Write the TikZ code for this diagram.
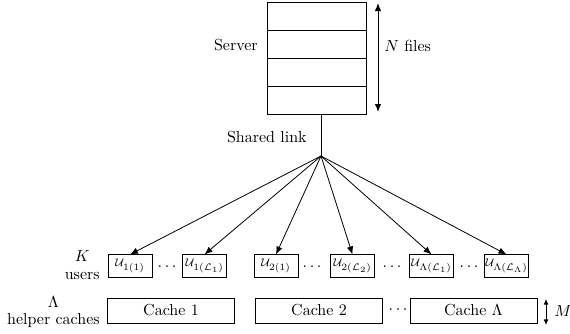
\documentclass[tikz,border=0pt]{standalone}
\usetikzlibrary{arrows.meta}
\newcommand{\usubx}[1]{$\mathcal{U}_{\mbox{\fontsize{5.8}{6}\selectfont$#1$}}$}
\begin{document}
\begin{tikzpicture}[x=0.625pt,y=-0.625pt,
  filerow/.style={draw,line width=0.6pt,minimum width=61.9pt,minimum height=17.5pt,inner sep=0pt},
  userbox/.style={draw,line width=0.6pt,minimum width=27.5pt,minimum height=13.8pt,inner sep=0pt,font=\fontsize{7.5}{9}\selectfont},
  cachebox/.style={draw,line width=0.6pt,minimum width=79.4pt,minimum height=15.6pt,inner sep=0pt},
  link/.style={line width=0.5pt,-{Latex[length=5pt,width=4pt]}},
  lbl/.style={inner sep=0pt,align=center}]
\useasboundingbox (0,0) rectangle (570,333);
% server
\node[filerow] (f1) at (316.5,16) {};
\node[filerow] (f2) at (316.5,44) {};
\node[filerow] (f3) at (316.5,72) {};
\node[filerow] (f4) at (316.5,100) {};
\node[lbl,anchor=east] (srv) at (258,45) {Server};
\coordinate (ntop) at (378,3);
\coordinate (nbot) at (378,112);
\draw[line width=0.6pt,{Latex[length=5pt,width=4pt]}-{Latex[length=5pt,width=4pt]}] (ntop) -- (nbot);
\node[lbl,anchor=west] (nf) at (384,46) {$N$ files};
% shared link
\coordinate (hub) at (321,156);
\draw[line width=0.5pt] (hub |- f4.south) -- (hub);
\node[lbl,anchor=east] (sl) at (307,137) {Shared link};
% users
\node[userbox] (u1) at (130,266) {\usubx{1(1)}};
\node[userbox] (u2) at (204.5,266) {\usubx{1(\mathcal{L}_1)}};
\node[userbox] (u3) at (276,266) {\usubx{2(1)}};
\node[userbox] (u4) at (352.5,266) {\usubx{2(\mathcal{L}_2)}};
\node[userbox] (u5) at (431.5,266) {\usubx{\Lambda(\mathcal{L}_1)}};
\node[userbox] (u6) at (506.5,266) {\usubx{\Lambda(\mathcal{L}_\Lambda)}};
\node[lbl] (d1) at (167,267) {$\dots$};
\node[lbl] (d2) at (312,267) {$\dots$};
\node[lbl] (d3) at (392,267) {$\dots$};
\node[lbl] (d4) at (469,267) {$\dots$};
\foreach \u in {u1,u2,u3,u4,u5,u6} \draw[link] (hub) -- (\u.north);
\node[lbl,anchor=east] (ku) at (100,265) {$K$\\[-1pt]users};
% caches
\node[cachebox] (c1) at (171,310.5) {Cache 1};
\node[cachebox] (c2) at (319,310.5) {Cache 2};
\node[cachebox] (c3) at (473.5,310.5) {Cache $\Lambda$};
\node[lbl] (d5) at (398,310) {$\cdots$};
\node[lbl,anchor=east] (hc) at (100,312) {$\Lambda$\\[-1pt]helper caches};
\coordinate (mtop) at (546,299);
\coordinate (mbot) at (546,325);
\draw[line width=0.5pt,{Latex[length=3.5pt,width=3pt]}-{Latex[length=3.5pt,width=3pt]}] (mtop) -- (mbot);
\node[lbl,anchor=west] (ml) at (554,311) {$M$};
\end{tikzpicture}
\end{document}
